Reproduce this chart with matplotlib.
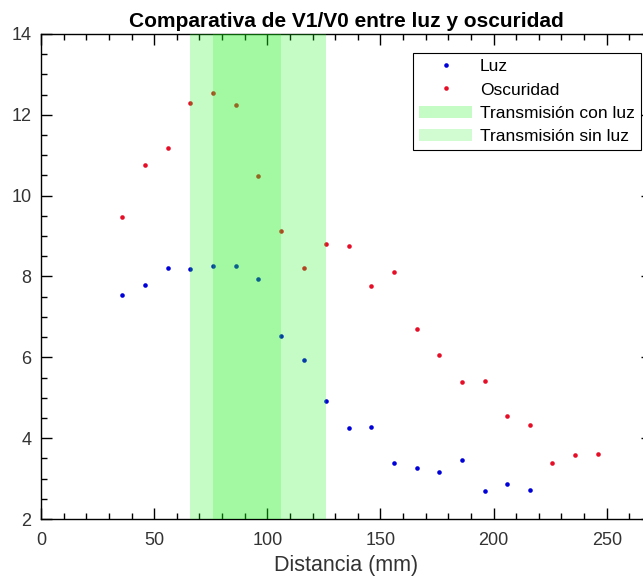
import matplotlib
matplotlib.use('Agg')
import matplotlib.pyplot as plt
from matplotlib.ticker import MultipleLocator

plt.rcParams['font.family'] = ['Liberation Sans', 'DejaVu Sans']

# Datos
dist_luz = [36, 46, 56, 66, 76, 86, 96, 106, 116, 126, 136, 146, 156, 166, 176, 186, 196, 206, 216]
v_luz = [7.54, 7.80, 8.20, 8.18, 8.25, 8.27, 7.93, 6.54, 5.93, 4.91, 4.26, 4.27,
         3.39, 3.27, 3.17, 3.47, 2.69, 2.87, 2.73]
dist_osc = [36, 46, 56, 66, 76, 86, 96, 106, 116, 126, 136, 146, 156, 166, 176, 186,
            196, 206, 216, 226, 236, 246]
v_osc = [9.48, 10.75, 11.19, 12.29, 12.54, 12.25, 10.49, 9.13, 8.20, 8.81, 8.76, 7.77,
         8.10, 6.70, 6.05, 5.39, 5.42, 4.55, 4.32, 3.39, 3.58, 3.61]
banda_con_luz = (66, 126)
banda_sin_luz = (76, 106)

fig = plt.figure(figsize=(6.43, 5.81), dpi=100)
# el eje derecho queda fuera del recorte, como en la original
ax = fig.add_axes([0.0638, 0.1067, 0.9502, 0.8348])

ax.plot(dist_luz, v_luz, 'o', color=(0, 0, 0.85), markersize=3.3, markeredgewidth=0, label='Luz', zorder=2)
ax.plot(dist_osc, v_osc, 'o', color=(0.9, 0.05, 0.15), markersize=3.3, markeredgewidth=0, label='Oscuridad', zorder=2)
ax.axvspan(*banda_con_luz, color=(0.1, 0.95, 0.1), alpha=0.25, lw=0, label='Transmisión con luz', zorder=3)
ax.axvspan(*banda_sin_luz, color=(0.1, 0.95, 0.1), alpha=0.2, lw=0, label='Transmisión sin luz', zorder=3)

ax.set_xlim(0, 270)
ax.set_ylim(2, 14)
ax.xaxis.set_major_locator(MultipleLocator(50))
ax.xaxis.set_minor_locator(MultipleLocator(10))
ax.yaxis.set_major_locator(MultipleLocator(2))
ax.yaxis.set_minor_locator(MultipleLocator(0.5))
ax.tick_params(which='both', direction='in', top=True, right=True, labelsize=13,
               labelcolor=(0.2, 0.2, 0.2), width=1)
ax.tick_params(which='major', length=8)
ax.tick_params(which='minor', length=4.5)
ax.tick_params(axis='x', pad=9)
ax.tick_params(axis='y', pad=7)
for s in ax.spines.values():
    s.set_linewidth(1)

ax.set_title('Comparativa de V1/V0 entre luz y oscuridad', fontsize=15, fontweight='bold', pad=5)
ax.set_xlabel('Distancia (mm)', fontsize=15.5, color=(0.2, 0.2, 0.2), labelpad=5)

leg = ax.legend(loc='upper right', bbox_to_anchor=(0.9817, 0.9608), borderaxespad=0,
                fontsize=12.5, fancybox=False, framealpha=1, edgecolor='black',
                handlelength=3.05, handletextpad=0.45, borderpad=0.35, labelspacing=0.47)
leg.get_frame().set_linewidth(0.8)

fig.savefig('out.png', dpi=100)
